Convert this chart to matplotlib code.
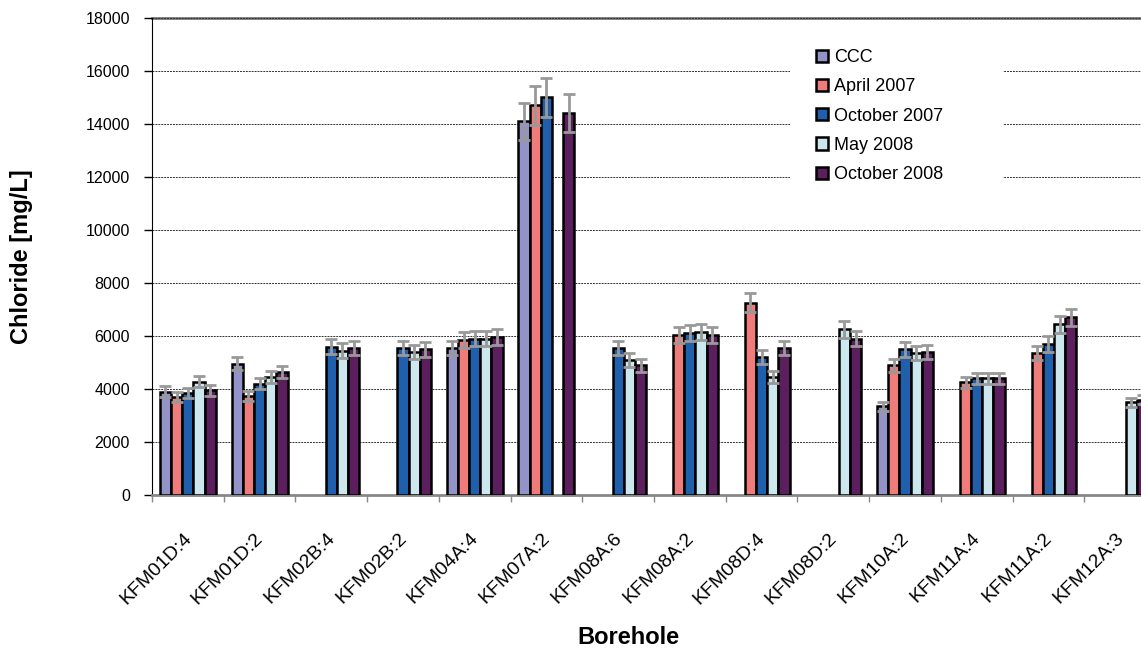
import numpy as np
import matplotlib.pyplot as plt
from matplotlib.patches import Rectangle

plt.rcParams['font.family'] = ['Liberation Sans', 'DejaVu Sans']

boreholes = ["KFM01D:4", "KFM01D:2", "KFM02B:4", "KFM02B:2", "KFM04A:4",
             "KFM07A:2", "KFM08A:6", "KFM08A:2", "KFM08D:4", "KFM08D:2",
             "KFM10A:2", "KFM11A:4", "KFM11A:2", "KFM12A:3"]

nan = np.nan
ccc      = [3900, 4950, nan, nan, 5550, 14100, nan, nan, nan, nan, 3350, nan, nan, nan]
apr_2007 = [3700, 3750, nan, nan, 5850, 14700, nan, 6050, 7250, nan, 4900, 4250, 5350, nan]
oct_2007 = [3850, 4200, 5600, 5550, 5900, 15000, 5550, 6100, 5200, nan, 5500, 4400, 5700, nan]
may_2008 = [4280, 4450, 5450, 5400, 5900, nan, 5100, 6150, 4450, 6250, 5350, 4400, 6450, 3500]
oct_2008 = [3950, 4650, 5550, 5500, 5950, 14400, 4900, 6050, 5550, 5900, 5400, 4400, 6700, 3600]

series = ["CCC", "April 2007", "October 2007", "May 2008", "October 2008"]
colors = ["#9493c8", "#ef7b7b", "#1f5fac", "#cde7ee", "#5c1f5e"]
rel_err = 0.05  # 5 % analytical uncertainty

W, H = 1141, 648
fig = plt.figure(figsize=(W / 100, H / 100), dpi=100)
# plot area runs a little past the right edge of the figure
ax = fig.add_axes([152 / W, 153 / H, 1004 / W, 477 / H])

x = np.arange(len(boreholes))
w = 0.156
for k, (name, vals, col) in enumerate(zip(series, [ccc, apr_2007, oct_2007, may_2008, oct_2008], colors)):
    v = np.array(vals, dtype=float)
    ok = ~np.isnan(v)
    xs = x[ok] + (k - 2) * w
    ax.bar(xs, v[ok], width=w, color=col, edgecolor="black", linewidth=1.8,
           label=name, zorder=3)
    ax.errorbar(xs, v[ok], yerr=v[ok] * rel_err, fmt="none", ecolor="#999999",
                elinewidth=2, capsize=4.5, capthick=2, zorder=4)

ax.set_xlim(-0.5, len(boreholes) - 0.5)
ax.set_ylim(0, 18000)
ax.set_yticks(np.arange(0, 18001, 2000))
ax.yaxis.grid(True, linestyle=(0, (2, 1)), color="#333333", linewidth=0.7, zorder=0)
ax.axhline(18000, color="#777777", linewidth=2, zorder=1, clip_on=False)

ax.set_xticks(np.arange(-0.5, len(boreholes), 1))
ax.set_xticklabels([])
ax.tick_params(axis="x", length=5, color="#888888", width=1)
ax.tick_params(axis="y", length=5.8, pad=10, color="black", width=1, labelsize=11.5)
for i, name in enumerate(boreholes):
    ax.text(i - 0.07, -1300, name, rotation=45, ha="right", va="top",
            rotation_mode="anchor", fontsize=14)

for s in ["top", "right"]:
    ax.spines[s].set_visible(False)
ax.spines["bottom"].set_color("#888888")
ax.spines["bottom"].set_linewidth(2)
ax.spines["left"].set_color("black")

fig.text(22 / W, 1 - 257 / H, "Chloride [mg/L]", rotation=90, ha="center",
         va="center", fontsize=17, fontweight="bold")
fig.text(628 / W, 1 - 644 / H, "Borehole", ha="center", va="baseline",
         fontsize=17, fontweight="bold")

# white box behind the legend hides the gridlines there
ax.add_patch(Rectangle((790 / W, 1 - 203 / H), 213 / W, 163 / H,
                       transform=fig.transFigure, facecolor="white",
                       edgecolor="none", zorder=2, clip_on=False))
leg = ax.legend(loc="upper left", bbox_to_anchor=(816 / W, 1 - 49 / H),
                bbox_transform=fig.transFigure, frameon=False, fontsize=13,
                handlelength=0.67, handleheight=0.67, handletextpad=0.35,
                labelspacing=0.68, borderpad=0, borderaxespad=0)
leg.set_zorder(5)

fig.savefig("out.png", dpi=100)
